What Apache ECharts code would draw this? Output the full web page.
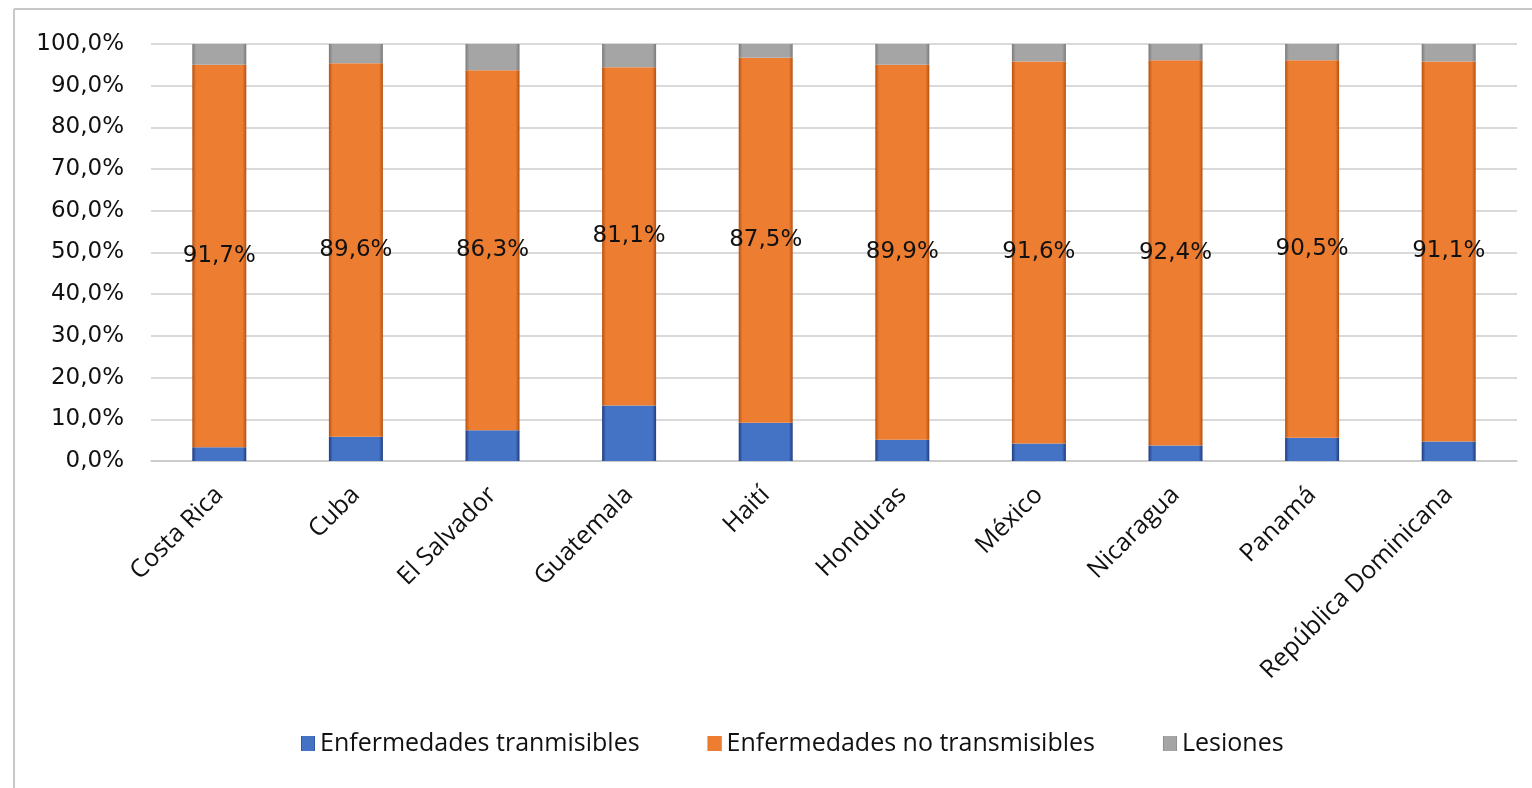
<!DOCTYPE html>
<html>
<head>
<meta charset="utf-8">
<script src="https://cdn.jsdelivr.net/npm/echarts@6/dist/echarts.min.js"></script>
<style>
html,body{margin:0;padding:0;background:#fff;}
#chart{width:1532px;height:788px;}
</style>
</head>
<body>
<div id="chart"></div>
<script>
const categories = ['Costa Rica','Cuba','El Salvador','Guatemala','Haití','Honduras','México','Nicaragua','Panamá','República Dominicana'];
const transmisibles = [3.3, 5.8, 7.4, 13.3, 9.2, 5.1, 4.2, 3.7, 5.6, 4.7];
const noTransmisibles = [91.7, 89.6, 86.3, 81.1, 87.5, 89.9, 91.6, 92.4, 90.5, 91.1];
const lesiones = [5.0, 4.6, 6.3, 5.6, 3.3, 5.0, 4.2, 3.9, 3.9, 4.2];
const yTicks = [0,10,20,30,40,50,60,70,80,90,100];

const FONT = 'Open Sans';
const NUMFONT = 'DejaVu Sans';
function grad(dark, base){
  return new echarts.graphic.LinearGradient(0,0,1,0,[
    {offset:0,color:dark},{offset:0.07,color:base},{offset:0.93,color:base},{offset:1,color:dark}
  ]);
}
const chart = echarts.init(document.getElementById('chart'));
const fmt = v => v.toFixed(1).replace('.', ',');
chart.setOption({
  animation:false,
  textStyle:{fontFamily:FONT},
  graphic:[
    {type:'line', shape:{x1:14,y1:9,x2:14,y2:788}, style:{stroke:'#c8c8c8',lineWidth:2}},
    {type:'line', shape:{x1:14,y1:9,x2:1532,y2:9}, style:{stroke:'#c8c8c8',lineWidth:2}}
  ],
  grid:{left:151,right:15,top:44,bottom:327,containLabel:false},
  legend:{
    top:726, left:296,
    itemWidth:14,itemHeight:15,itemGap:68,
    icon:'rect',
    textStyle:{fontFamily:FONT,fontSize:25,color:'#111'},
    data:['Enfermedades tranmisibles','Enfermedades no transmisibles','Lesiones']
  },
  xAxis:{
    type:'category', data:categories,
    axisLine:{show:true,lineStyle:{color:'#c8c8c8',width:1.5}},
    axisTick:{show:false},
    axisLabel:{rotate:45,interval:0,margin:30,fontFamily:FONT,fontSize:25,color:'#111'}
  },
  yAxis:{
    type:'value', min:0, max:100, interval:10,
    axisLine:{show:false}, axisTick:{show:false},
    splitLine:{lineStyle:{color:'#cccccc',width:1.5}},
    axisLabel:{margin:27,fontFamily:NUMFONT,fontSize:23,color:'#111',
      formatter:v => yTicks.includes(v) ? fmt(v)+'%' : ''}
  },
  series:[
    {name:'Enfermedades tranmisibles',type:'bar',stack:'t',barWidth:54,data:transmisibles,
      itemStyle:{color:grad('#1f3b80','#4472C4')}},
    {name:'Enfermedades no transmisibles',type:'bar',stack:'t',barWidth:54,data:noTransmisibles,
      itemStyle:{color:grad('#b5500f','#ED7D31')},
      label:{show:true,position:'inside',fontFamily:NUMFONT,fontSize:23,color:'#111',
        formatter:p => fmt(p.value)+'%'}},
    {name:'Lesiones',type:'bar',stack:'t',barWidth:54,data:lesiones,
      itemStyle:{color:grad('#7a7a7a','#A5A5A5')}}
  ]
});
</script>
</body>
</html>
